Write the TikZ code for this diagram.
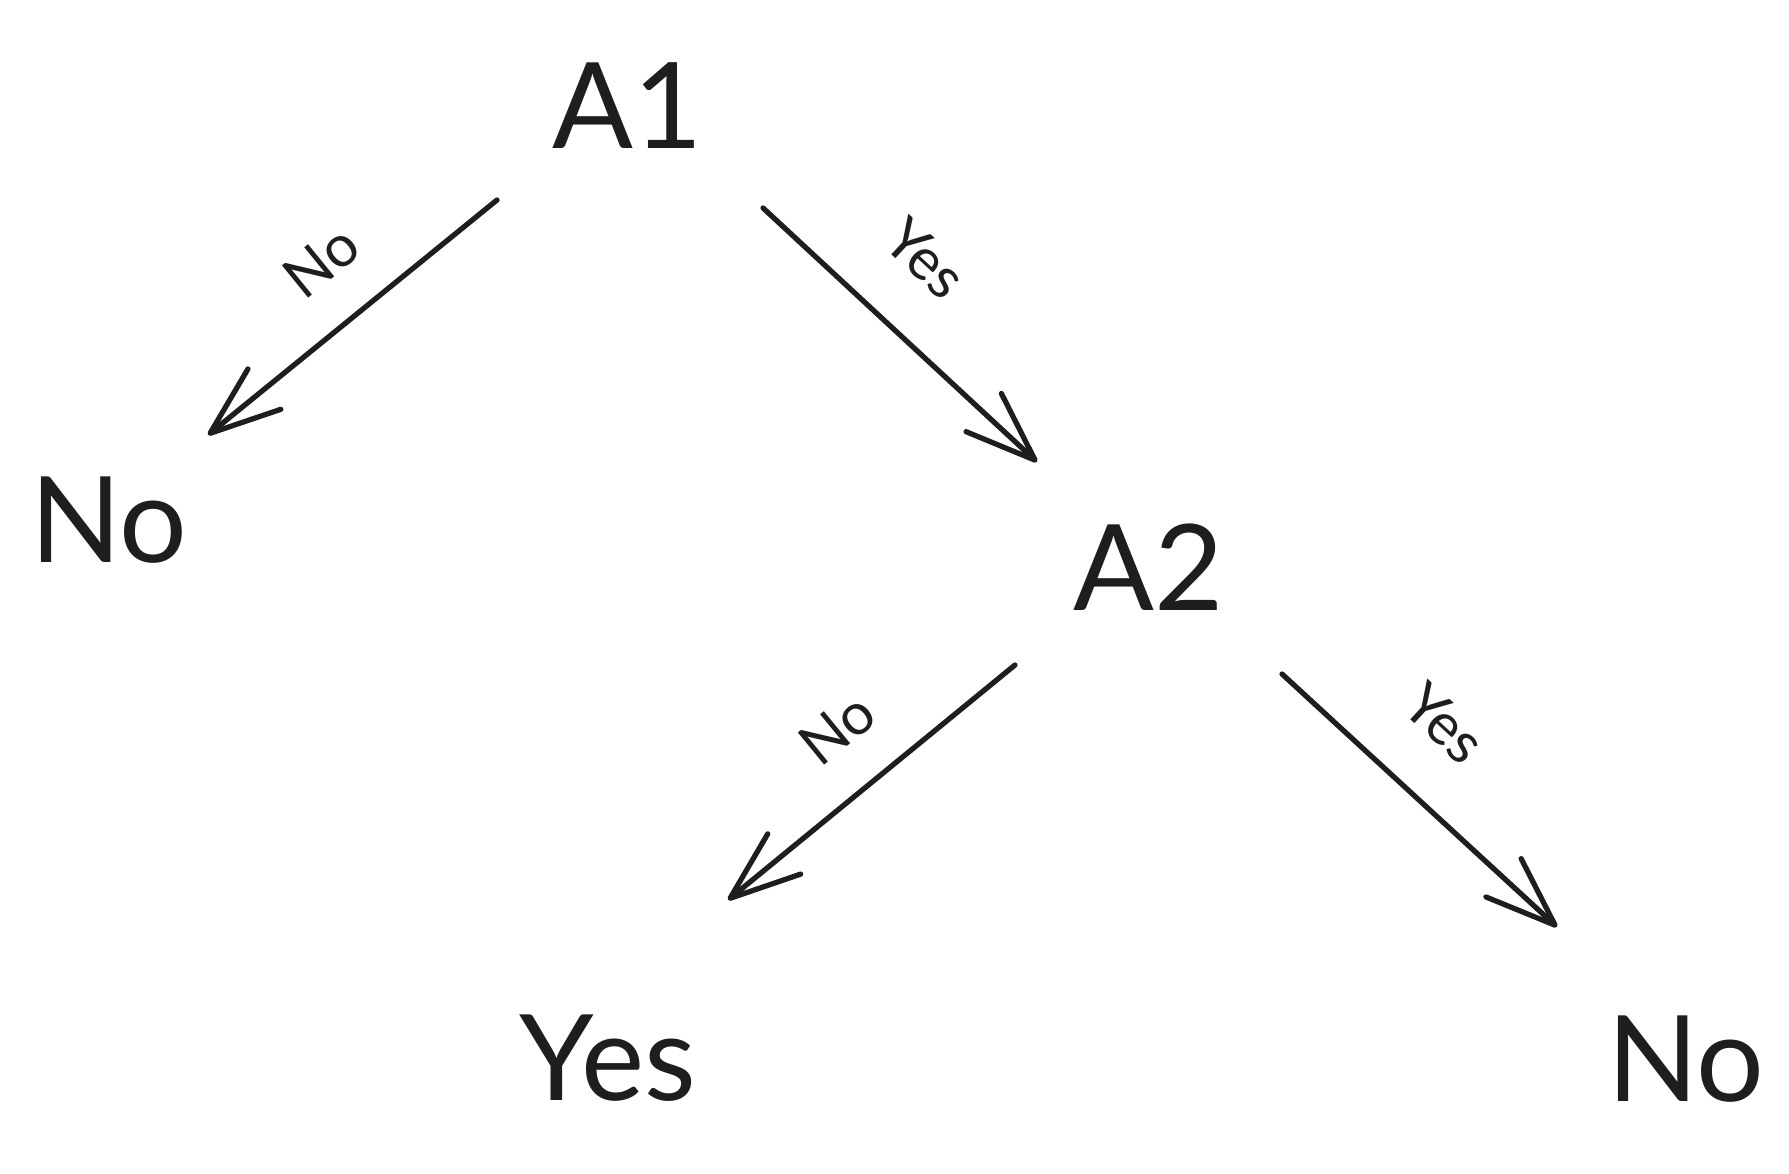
\documentclass[tikz,border=0pt]{standalone}
\usepackage{fontspec}
\setmainfont{Lato}
\usepackage{tikz}
\usetikzlibrary{arrows.meta}
\definecolor{ink}{HTML}{1E1E1E}

\tikzset{
  big/.style={font=\fontsize{34}{36}\selectfont, text=ink, inner sep=0pt},
  lbl/.style={font=\fontsize{16.5}{18}\selectfont, text=ink, inner sep=0pt, sloped},
  edge/.style={draw=ink, line width=1.5pt, line cap=round,
    -{Straight Barb[length=0.7cm, width=0.52cm, round]}}
}

\begin{document}
\begin{tikzpicture}[x=0.01cm, y=0.01cm]
\useasboundingbox (0,0) rectangle (1789,1173);
% nodes
\node[big] (a1) at (628,1067) {A1};
\node[big] (no1) at (109,653) {No};
\node[big] (a2) at (1149,606) {A2};
\node[big] (yes) at (608,115) {Yes};
\node[big] (no2) at (1686,114) {No};
% edges
\draw[edge] ([shift={(-131,-94)}]a1.center) -- node[lbl, pos=0.47, above=0.4cm] {No} ([shift={(99,85)}]no1.center);
\draw[edge] ([shift={(135,-102)}]a1.center) -- node[lbl, pos=0.41, above=0.5cm] {Yes} ([shift={(-112,105)}]a2.center);
\draw[edge] ([shift={(-134,-98)}]a2.center) -- node[lbl, pos=0.48, above=0.4cm] {No} ([shift={(120,158)}]yes.center);
\draw[edge] ([shift={(133,-107)}]a2.center) -- node[lbl, pos=0.41, above=0.5cm] {Yes} ([shift={(-129,132)}]no2.center);
\end{tikzpicture}
\end{document}
